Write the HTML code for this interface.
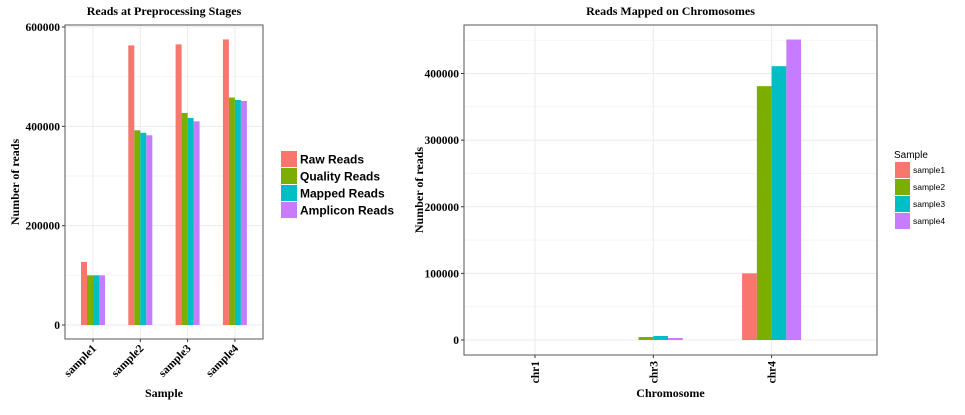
<!DOCTYPE html>
<html><head><meta charset="utf-8"><style>
body{margin:0;background:#fff;width:965px;height:410px;overflow:hidden}
svg text{font-family:"Liberation Serif",serif}
</style></head><body>
<svg id="c" width="965" height="410" xmlns="http://www.w3.org/2000/svg"></svg>
<script>
const samples=["sample1","sample2","sample3","sample4"];
const stages=["Raw Reads","Quality Reads","Mapped Reads","Amplicon Reads"];
const rawReads=[127000,563000,565000,575000];
const qualityReads=[100000,392000,427000,458000];
const mappedReads=[100000,387000,417000,453000];
const ampliconReads=[100000,382000,410000,451000];
const leftTicks=[0,200000,400000,600000];
const chroms=["chr1","chr3","chr4"];
const chrSample1=[0,0,100000];
const chrSample2=[0,4500,381000];
const chrSample3=[0,6000,411000];
const chrSample4=[0,3000,451000];
const rightTicks=[0,100000,200000,300000,400000];
const colors=["#F8766D","#7CAE00","#00BFC4","#C77CFF"];
const NS="http://www.w3.org/2000/svg";
const svg=document.getElementById('c');
function el(t,a,p){const e=document.createElementNS(NS,t);for(const k in a)e.setAttribute(k,a[k]);(p||svg).appendChild(e);return e;}
function txt(s,a,p){const e=el('text',a,p);e.textContent=s;return e;}

function panel(o){
  const g=el('g',{});
  
  
  const y=v=>o.y0+(v/o.vmax)*(o.yTop-o.y0);
  const x=i=>o.xc0+i*o.step;
  // minor grid
  for(let i=0;i<o.ticks.length;i++){
    const m=o.ticks[i]+o.tstep/2;const yy=y(m);
    if(yy>o.top&&yy<o.bot) el('line',{x1:o.left,x2:o.right,y1:yy,y2:yy,stroke:'#f2f2f2','stroke-width':0.7},g);
  }
  o.ticks.forEach(t=>{const yy=y(t);
    const l=el('line',{x1:o.left,x2:o.right,y1:yy,y2:yy,stroke:'#ebebeb','stroke-width':1},g);
    
    el('line',{x1:o.left-3,x2:o.left,y1:yy,y2:yy,stroke:'#333'},g);
    const tl=txt(String(t),{x:o.left-5,y:yy+4,'text-anchor':'end','font-size':11.5,'font-weight':'bold'},g);
    
  });
  o.cats.forEach((c,i)=>{const xx=x(i);
    el('line',{x1:xx,x2:xx,y1:o.top,y2:o.bot,stroke:'#ebebeb'},g);
    el('line',{x1:xx,x2:xx,y1:o.bot,y2:o.bot+3,stroke:'#333'},g);
  });
  o.series.forEach((s,si)=>{
    s.forEach((v,i)=>{
      const bx=x(i)-o.gw/2+si*o.gw/4;
      const r=el('rect',{x:bx,y:y(v),width:o.gw/4,height:o.y0-y(v),fill:colors[si]},g);
      
      
    });
  });
  el('rect',{x:o.left,y:o.top,width:o.right-o.left,height:o.bot-o.top,fill:'none',stroke:'#555','stroke-width':1},g);
  o.cats.forEach((c,i)=>{const xx=x(i);
    let t;
    if(o.rot45){t=txt(c,{x:xx+4,y:o.bot+10,'text-anchor':'end','font-size':11.5,'font-weight':'bold',transform:`rotate(-45 ${xx+4} ${o.bot+10})`},g);}
    else{t=txt(c,{x:xx+4,y:o.bot+6,'text-anchor':'end','font-size':11.5,'font-weight':'bold',transform:`rotate(-90 ${xx+4} ${o.bot+6})`},g);}
    
  });
  const tt=txt(o.title,{x:(o.left+o.right)/2,y:15,'text-anchor':'middle','font-size':12,'font-weight':'bold'},g);
  
  const xt=txt(o.xtitle,{x:(o.left+o.right)/2,y:397,'text-anchor':'middle','font-size':12,'font-weight':'bold'},g);
  
  const yx=o.ytx,yy=(o.top+o.bot)/2;
  const yt=txt('Number of reads',{x:yx,y:yy,'text-anchor':'middle','font-size':12,'font-weight':'bold',transform:`rotate(-90 ${yx} ${yy})`},g);
  
}
panel({name:'preprocessing-chart',left:65,right:263,top:25,bot:339,y0:325,yTop:27,vmax:600000,xc0:93,step:47.3,gw:24,
  ticks:leftTicks,tstep:200000,cats:samples,series:[rawReads,qualityReads,mappedReads,ampliconReads],snames:stages,rot45:true,
  title:'Reads at Preprocessing Stages',xtitle:'Sample',ytx:19});
panel({name:'chromosome-chart',left:464,right:877,top:25,bot:355,y0:340,yTop:73.5,vmax:400000,xc0:535,step:118.3,gw:59,
  ticks:rightTicks,tstep:100000,cats:chroms,series:[chrSample1,chrSample2,chrSample3,chrSample4],snames:samples,rot45:false,
  title:'Reads Mapped on Chromosomes',xtitle:'Chromosome',ytx:423});
// left legend
stages.forEach((s,i)=>{
  const g=el('g',{});
  
  
  const yy=151+i*17;
  el('rect',{x:281,y:yy,width:16,height:16,fill:colors[i]},g);
  const t=txt(s,{x:300,y:yy+12.5,'font-size':12,'font-weight':'bold',style:'font-family:"Liberation Sans",sans-serif'},g);
});
const lt=txt('Sample',{x:894,y:158,'font-size':10,style:'font-family:"Liberation Sans",sans-serif'});


samples.forEach((s,i)=>{
  const g=el('g',{});
  
  
  const yy=162+i*17;
  el('rect',{x:895,y:yy,width:15,height:16,fill:colors[i]},g);
  txt(s,{x:913,y:yy+11,'font-size':8.5,style:'font-family:"Liberation Sans",sans-serif'},g);
});
</script>
</body></html>
